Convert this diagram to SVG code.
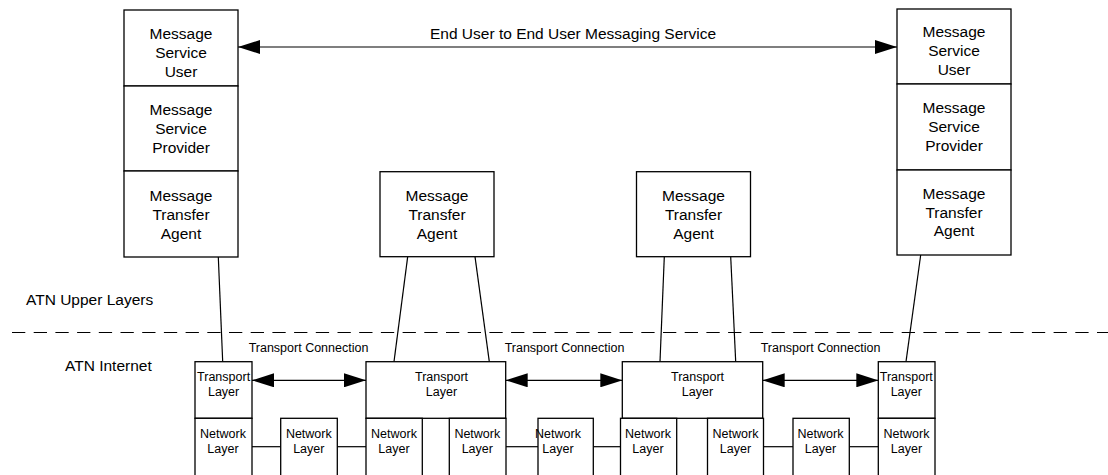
<svg xmlns="http://www.w3.org/2000/svg" width="1108" height="475" viewBox="0 0 1108 475">
<style>
.box{fill:#fff;stroke:#000;stroke-width:1.3}
.ln{fill:none;stroke:#000;stroke-width:1.2}
.big{font-family:"Liberation Sans",Arial,sans-serif;font-size:15.5px;fill:#000;text-anchor:middle}
.sm{font-family:"Liberation Sans",Arial,sans-serif;font-size:12.5px;fill:#000;text-anchor:middle}
.lbl{font-family:"Liberation Sans",Arial,sans-serif;font-size:15.5px;fill:#000}
</style>
<defs>
<marker id="ah" viewBox="0 0 22 14" refX="22" refY="7" markerWidth="22" markerHeight="14" markerUnits="userSpaceOnUse" orient="auto-start-reverse">
<path d="M0,0 L22,7 L0,14 Z" fill="#000"/>
</marker>
</defs>
<rect width="1108" height="475" fill="#fff"/>

<g id="layer-divider">
<line x1="12" y1="332.5" x2="1108" y2="332.5" stroke="#000" stroke-width="1" stroke-dasharray="13.3 8.4"/>
<text class="lbl" x="26" y="305">ATN Upper Layers</text>
<text class="lbl" x="65" y="371">ATN Internet</text>
</g>

<g id="connectors">
<line class="ln" x1="238" y1="47" x2="897" y2="47" marker-start="url(#ah)" marker-end="url(#ah)"/>
<line class="ln" x1="218.3" y1="257" x2="222.7" y2="361.7"/>
<line class="ln" x1="920.7" y1="255" x2="906" y2="361.7"/>
<line class="ln" x1="407.7" y1="256.7" x2="394" y2="361.7"/>
<line class="ln" x1="475" y1="256.7" x2="489.3" y2="361.7"/>
<line class="ln" x1="664.3" y1="256.7" x2="660" y2="361.7"/>
<line class="ln" x1="730.7" y1="256.7" x2="735.7" y2="361.7"/>
<line class="ln" x1="252" y1="380.3" x2="366" y2="380.3" marker-start="url(#ah)" marker-end="url(#ah)"/>
<line class="ln" x1="505.7" y1="380.3" x2="622.3" y2="380.3" marker-start="url(#ah)" marker-end="url(#ah)"/>
<line class="ln" x1="762.7" y1="380.3" x2="878.3" y2="380.3" marker-start="url(#ah)" marker-end="url(#ah)"/>
<line class="ln" x1="252" y1="446.7" x2="280.7" y2="446.7"/>
<line class="ln" x1="337" y1="446.7" x2="366" y2="446.7"/>
<line class="ln" x1="506" y1="446.7" x2="538" y2="446.7"/>
<line class="ln" x1="593.3" y1="446.7" x2="620.5" y2="446.7"/>
<line class="ln" x1="763.5" y1="446.7" x2="793" y2="446.7"/>
<line class="ln" x1="849.3" y1="446.7" x2="878.3" y2="446.7"/>
<text class="big" x="573" y="38.5">End User to End User Messaging Service</text>
<text class="sm" x="308.5" y="351.5">Transport Connection</text>
<text class="sm" x="564.5" y="351.5">Transport Connection</text>
<text class="sm" x="820.5" y="351.5">Transport Connection</text>
</g>

<g id="left-msu">
<rect class="box" x="124" y="10" width="114" height="76"/>
<text class="big" x="181" y="39">Message</text>
<text class="big" x="181" y="58">Service</text>
<text class="big" x="181" y="77">User</text>
</g>
<g id="left-msp">
<rect class="box" x="124" y="86" width="114" height="85"/>
<text class="big" x="181" y="115">Message</text>
<text class="big" x="181" y="134">Service</text>
<text class="big" x="181" y="152.5">Provider</text>
</g>
<g id="left-mta">
<rect class="box" x="124" y="171" width="114" height="86"/>
<text class="big" x="181" y="201">Message</text>
<text class="big" x="181" y="220">Transfer</text>
<text class="big" x="181" y="238.5">Agent</text>
</g>

<g id="right-msu">
<rect class="box" x="897" y="9" width="114" height="75"/>
<text class="big" x="954" y="37">Message</text>
<text class="big" x="954" y="56">Service</text>
<text class="big" x="954" y="75">User</text>
</g>
<g id="right-msp">
<rect class="box" x="897" y="84" width="114" height="86"/>
<text class="big" x="954" y="113">Message</text>
<text class="big" x="954" y="132">Service</text>
<text class="big" x="954" y="151">Provider</text>
</g>
<g id="right-mta">
<rect class="box" x="897" y="170" width="114" height="85"/>
<text class="big" x="954" y="198.5">Message</text>
<text class="big" x="954" y="217.5">Transfer</text>
<text class="big" x="954" y="236">Agent</text>
</g>

<g id="mta-1">
<rect class="box" x="380" y="171.7" width="114" height="85"/>
<text class="big" x="437" y="200.5">Message</text>
<text class="big" x="437" y="219.5">Transfer</text>
<text class="big" x="437" y="238.5">Agent</text>
</g>
<g id="mta-2">
<rect class="box" x="636.5" y="171.7" width="114" height="85"/>
<text class="big" x="693.5" y="200.5">Message</text>
<text class="big" x="693.5" y="219.5">Transfer</text>
<text class="big" x="693.5" y="238.5">Agent</text>
</g>

<g id="tl-1">
<rect class="box" x="195" y="361.7" width="57" height="56.6"/>
<text class="sm" x="223.6" y="381">Transport</text>
<text class="sm" x="223.6" y="396">Layer</text>
</g>
<g id="tl-2">
<rect class="box" x="366" y="361.7" width="139.7" height="56.6"/>
<text class="sm" x="441.5" y="381">Transport</text>
<text class="sm" x="441.5" y="396">Layer</text>
</g>
<g id="tl-3">
<rect class="box" x="622.3" y="361.7" width="140.4" height="56.6"/>
<text class="sm" x="697.5" y="381">Transport</text>
<text class="sm" x="697.5" y="396">Layer</text>
</g>
<g id="tl-4">
<rect class="box" x="878.3" y="361.7" width="56.7" height="56.6"/>
<text class="sm" x="906.3" y="381">Transport</text>
<text class="sm" x="906.3" y="396">Layer</text>
</g>

<g id="nl-1">
<rect class="box" x="195" y="418.3" width="57" height="58"/>
<text class="sm" x="223" y="438">Network</text>
<text class="sm" x="223" y="453">Layer</text>
</g>
<g id="nl-2">
<rect class="box" x="280.7" y="418.3" width="56.6" height="58"/>
<text class="sm" x="308.8" y="438">Network</text>
<text class="sm" x="308.8" y="453">Layer</text>
</g>
<g id="nl-3">
<rect class="box" x="366" y="418.3" width="56.3" height="58"/>
<text class="sm" x="394" y="438">Network</text>
<text class="sm" x="394" y="453">Layer</text>
</g>
<g id="nl-4">
<rect class="box" x="449.3" y="418.3" width="56.7" height="58"/>
<text class="sm" x="477.3" y="438">Network</text>
<text class="sm" x="477.3" y="453">Layer</text>
</g>
<g id="nl-5">
<rect class="box" x="538" y="418.3" width="55.3" height="58"/>
<text class="sm" x="558" y="438">Network</text>
<text class="sm" x="558" y="453">Layer</text>
</g>
<g id="nl-6">
<rect class="box" x="620.5" y="418.3" width="56.2" height="58"/>
<text class="sm" x="648" y="438">Network</text>
<text class="sm" x="648" y="453">Layer</text>
</g>
<g id="nl-7">
<rect class="box" x="707.5" y="418.3" width="56" height="58"/>
<text class="sm" x="735.5" y="438">Network</text>
<text class="sm" x="735.5" y="453">Layer</text>
</g>
<g id="nl-8">
<rect class="box" x="793" y="418.3" width="56.3" height="58"/>
<text class="sm" x="820.5" y="438">Network</text>
<text class="sm" x="820.5" y="453">Layer</text>
</g>
<g id="nl-9">
<rect class="box" x="878.3" y="418.3" width="56.7" height="58"/>
<text class="sm" x="906.5" y="438">Network</text>
<text class="sm" x="906.5" y="453">Layer</text>
</g>
</svg>
